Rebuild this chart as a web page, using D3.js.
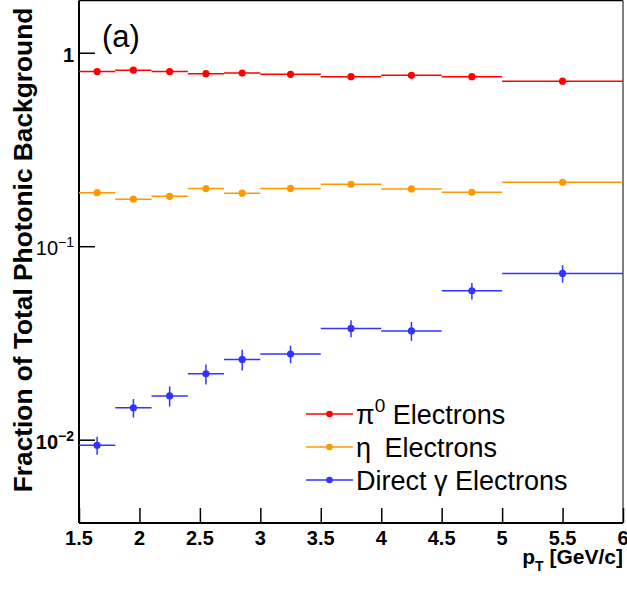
<!DOCTYPE html>
<html><head><meta charset="utf-8">
<script src="https://cdn.jsdelivr.net/npm/d3@7/dist/d3.min.js"></script>
<style>body{margin:0;background:#fff;}svg{display:block;}</style>
</head><body>
<script>
const binLow  = [1.5, 1.8, 2.1, 2.4, 2.7, 3.0, 3.5, 4.0, 4.5, 5.0];
const binHigh = [1.8, 2.1, 2.4, 2.7, 3.0, 3.5, 4.0, 4.5, 5.0, 6.0];
const binCenter = [1.65, 1.95, 2.25, 2.55, 2.85, 3.25, 3.75, 4.25, 4.75, 5.5];
const pi0Values = [0.800, 0.813, 0.800, 0.779, 0.785, 0.773, 0.752, 0.764, 0.752, 0.713];
const etaValues = [0.189, 0.175, 0.181, 0.1985, 0.188, 0.199, 0.209, 0.1977, 0.190, 0.214];
const directValues = [0.00936, 0.01462, 0.01683, 0.0219, 0.0260, 0.0277, 0.0376, 0.0365, 0.0588, 0.0723];
const directErrors = [0.0010, 0.0016, 0.0020, 0.0026, 0.0032, 0.0029, 0.0038, 0.0041, 0.0058, 0.0075];
const xTickValues = [1.5, 2, 2.5, 3, 3.5, 4, 4.5, 5, 5.5, 6];
const xTickLabels = ["1.5", "2", "2.5", "3", "3.5", "4", "4.5", "5", "5.5", "6"];
const legendLabels = ["π|0| Electrons", "η\u2002Electrons", "Direct γ Electrons"];
const seriesColors = ["#ff0000", "#ff9900", "#3333ff"];

const W = 627, H = 589;
const L = 79, R = 623, T = 0.5, B = 523;
const svg = d3.select("body").append("svg").attr("width", W).attr("height", H);
const x = d3.scaleLinear().domain([1.5, 6]).range([L, R]);
const y = d3.scaleLog().domain([0.00371, 1.862]).range([B, T]);

// frame
svg.append("line").attr("x1", L).attr("x2", R).attr("y1", T).attr("y2", T).attr("stroke", "#000").attr("stroke-width", 1.5);
svg.append("line").attr("x1", R).attr("x2", R).attr("y1", T).attr("y2", B).attr("stroke", "#555").attr("stroke-width", 1.5);

// x axis
const xMinor = d3.range(15, 61).map(d => d / 10);
const gx = svg.append("g").attr("transform", `translate(0,${B})`);
gx.call(d3.axisBottom(x).tickValues(xMinor).tickSize(-7).tickFormat(""));
gx.call(d3.axisBottom(x).tickValues(xTickValues).tickSize(-15).tickFormat(""));
gx.selectAll("path.domain").remove();
gx.selectAll("line").attr("stroke", "#000").attr("stroke-width", 1.5);
svg.append("line").attr("x1", L).attr("x2", R).attr("y1", B).attr("y2", B).attr("stroke", "#000").attr("stroke-width", 2);
xTickValues.forEach((v, i) => {
  svg.append("text").attr("x", x(v)).attr("y", 545).attr("text-anchor", "middle")
    .attr("font-family", "Liberation Sans, Arial, sans-serif").attr("font-weight", "bold").attr("font-size", 20)
    .text(xTickLabels[i]);
});

// y axis
const yMinor = [];
[0.001, 0.01, 0.1, 1].forEach(dec => { for (let k = 1; k <= 9; k++) { const v = dec * k; if (v >= 0.00371 && v <= 1.862) yMinor.push(v); } });
const yMajor = [0.01, 0.1, 1];
const gy = svg.append("g").attr("transform", `translate(${L},0)`);
gy.call(d3.axisLeft(y).tickValues(yMinor).tickSize(-8).tickFormat(""));
gy.call(d3.axisLeft(y).tickValues(yMajor).tickSize(-16).tickFormat(""));
gy.selectAll("path.domain").remove();
gy.selectAll("line").attr("stroke", "#000").attr("stroke-width", 1.5);
svg.append("line").attr("x1", L).attr("x2", L).attr("y1", T).attr("y2", B).attr("stroke", "#000").attr("stroke-width", 2);

const yLab = [
  {v: 1, base: "1", exp: null, w: "bold"},
  {v: 0.1, base: "10", exp: "−1", w: "normal"},
  {v: 0.01, base: "10", exp: "−2", w: "bold"}
];
yLab.forEach(d => {
  const t = svg.append("text").attr("x", 74).attr("y", y(d.v) + 9).attr("text-anchor", "end")
    .attr("font-family", "Liberation Sans, Arial, sans-serif").attr("font-weight", d.w).attr("font-size", 20);
  t.append("tspan").text(d.base);
  if (d.exp) t.append("tspan").attr("dy", -8).attr("font-size", 14).text(d.exp);
});

// y title
svg.append("text").attr("transform", `translate(32,250) rotate(-90)`).attr("text-anchor", "middle")
  .attr("font-family", "Liberation Sans, Arial, sans-serif").attr("font-weight", "bold").attr("font-size", 26.3)
  .text("Fraction of Total Photonic Background");

// x title
const xt = svg.append("text").attr("x", 623).attr("y", 564).attr("text-anchor", "end")
  .attr("font-family", "Liberation Sans, Arial, sans-serif").attr("font-weight", "bold").attr("font-size", 21);
xt.append("tspan").text("p");
xt.append("tspan").attr("dy", 7).attr("font-size", 14).text("T");
xt.append("tspan").attr("dy", -7).text(" [GeV/c]");

// (a)
svg.append("text").attr("x", 102).attr("y", 47).attr("font-family", "Liberation Sans, Arial, sans-serif")
  .attr("font-size", 31).text("(a)");

// series
const series = [
  {vals: pi0Values, err: null, c: seriesColors[0]},
  {vals: etaValues, err: null, c: seriesColors[1]},
  {vals: directValues, err: directErrors, c: seriesColors[2]}
];
series.forEach(s => {
  const g = svg.append("g");
  s.vals.forEach((v, i) => {
    g.append("line").attr("x1", x(binLow[i])).attr("x2", x(binHigh[i])).attr("y1", y(v)).attr("y2", y(v))
      .attr("stroke", s.c).attr("stroke-width", 1.5);
    if (s.err) {
      g.append("line").attr("x1", x(binCenter[i])).attr("x2", x(binCenter[i]))
        .attr("y1", y(v + s.err[i])).attr("y2", y(v - s.err[i])).attr("stroke", s.c).attr("stroke-width", 1.5);
    }
    g.append("circle").attr("cx", x(binCenter[i])).attr("cy", y(v)).attr("r", 3.6).attr("fill", s.c);
  });
});

// legend
const legY = [414, 447, 480];
legendLabels.forEach((lab, i) => {
  const c = seriesColors[i];
  svg.append("line").attr("x1", 306).attr("x2", 353).attr("y1", legY[i]).attr("y2", legY[i]).attr("stroke", c).attr("stroke-width", 1.5);
  svg.append("circle").attr("cx", 329.5).attr("cy", legY[i]).attr("r", 3.3).attr("fill", c);
  const t = svg.append("text").attr("x", 356).attr("y", legY[i] + 9.5)
    .attr("font-family", "Liberation Sans, Arial, sans-serif").attr("font-size", 27);
  const parts = lab.split("|");
  if (parts.length === 3) {
    t.append("tspan").text(parts[0]);
    t.append("tspan").attr("dy", -12).attr("font-size", 19).text(parts[1]);
    t.append("tspan").attr("dy", 12).text(parts[2]);
  } else {
    t.text(lab);
  }
});
</script>
</body></html>
